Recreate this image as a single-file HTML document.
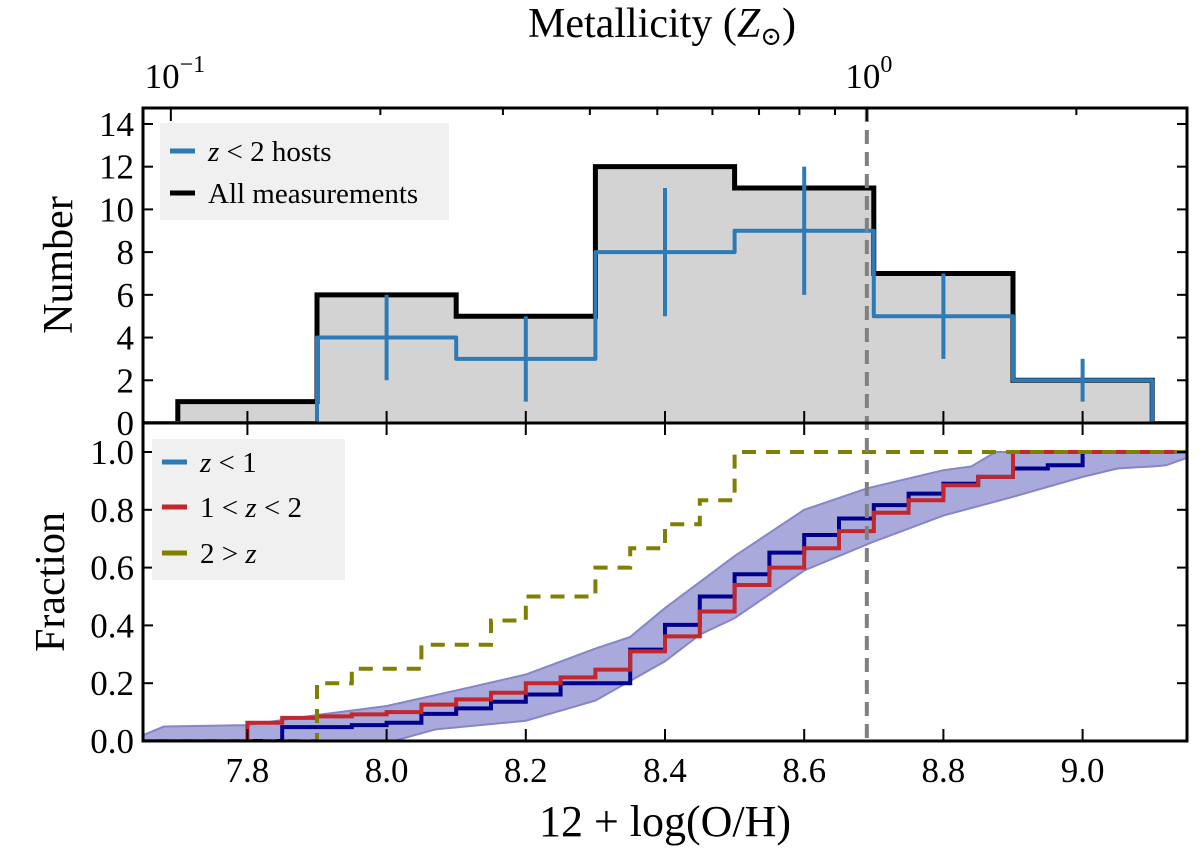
<!DOCTYPE html>
<html><head><meta charset="utf-8"><style>
html,body{margin:0;padding:0;background:#fff;}
svg{display:block;font-family:"Liberation Serif","DejaVu Serif",serif;}
</style></head><body>
<svg id="chart" width="1200" height="864" viewBox="0 0 1200 864" xmlns="http://www.w3.org/2000/svg">
<g id="topg"></g>
<g id="botg"></g>
<g id="labg"></g>
</svg>
<script>
// ---------- data ----------
const binEdges = [7.7, 7.9, 8.1, 8.3, 8.5, 8.7, 8.9, 9.1];
const allCounts = [1, 6, 5, 12, 11, 7, 2];
const hostCounts = [0, 4, 3, 8, 9, 5, 2];
const errCenters = [8.0, 8.2, 8.4, 8.6, 8.8, 9.0];
const errVals = [4, 3, 8, 9, 5, 2];
const errLo = [2, 1, 5, 6, 3, 1];
const errHi = [6, 5, 11, 12, 7, 3];
const topTicks = [0, 2, 4, 6, 8, 10, 12, 14];
const fracTicks = [0.0, 0.2, 0.4, 0.6, 0.8, 1.0];
const xTicks = [7.8, 8.0, 8.2, 8.4, 8.6, 8.8, 9.0];
const solarOH = 8.69;
const zTicksMajor = [0.1, 1];
const zTicksMinor = [0.2, 0.3, 0.4, 0.5, 0.6, 0.7, 0.8, 0.9, 2];
const redX = [7.8, 7.85, 7.9, 7.95, 8.0, 8.05, 8.1, 8.15, 8.2, 8.25, 8.3, 8.35, 8.4, 8.45, 8.5, 8.55, 8.6, 8.65, 8.7, 8.75, 8.8, 8.85, 8.9];
const redY = [0.063, 0.08, 0.085, 0.092, 0.10, 0.126, 0.144, 0.167, 0.2, 0.22, 0.247, 0.31, 0.362, 0.448, 0.54, 0.60, 0.667, 0.726, 0.79, 0.833, 0.885, 0.914, 1.0];
const navyX = [7.85, 7.95, 8.0, 8.05, 8.1, 8.15, 8.2, 8.25, 8.35, 8.4, 8.45, 8.5, 8.55, 8.6, 8.65, 8.7, 8.75, 8.8, 8.85, 8.9, 8.95, 9.0];
const navyY = [0.048, 0.055, 0.063, 0.094, 0.113, 0.136, 0.161, 0.2, 0.316, 0.402, 0.5, 0.577, 0.652, 0.713, 0.77, 0.816, 0.856, 0.89, 0.914, 0.943, 0.954, 1.0];
const oliveX = [7.9, 7.95, 8.05, 8.15, 8.2, 8.3, 8.35, 8.4, 8.45, 8.5];
const oliveY = [0.2, 0.25, 0.333, 0.417, 0.5, 0.6, 0.667, 0.75, 0.833, 1.0];
const bandUpX = [7.65, 7.68, 7.8, 7.9, 8.0, 8.1, 8.2, 8.3, 8.35, 8.4, 8.45, 8.5, 8.6, 8.69, 8.8, 8.84, 8.875, 9.15];
const bandUpY = [0.02, 0.05, 0.055, 0.09, 0.121, 0.175, 0.23, 0.32, 0.36, 0.46, 0.55, 0.64, 0.80, 0.874, 0.937, 0.95, 1.0, 1.0];
const bandLoX = [7.65, 8.01, 8.07, 8.2, 8.3, 8.4, 8.45, 8.5, 8.6, 8.7, 8.8, 8.9, 9.0, 9.05, 9.1, 9.12, 9.15];
const bandLoY = [0.0, 0.0, 0.04, 0.07, 0.14, 0.276, 0.368, 0.425, 0.59, 0.69, 0.78, 0.845, 0.914, 0.943, 0.95, 0.954, 0.98];

// ---------- scales ----------
const L = 143, R = 1187, TT = 108, TB = 423, BB = 741;
const X0 = 7.65, X1 = 9.15;
const sx = v => L + (v - X0) / (X1 - X0) * (R - L);
const TMAX = (TB - TT) / 21.36;
const syT = v => TB - v / TMAX * (TB - TT);
const syB = v => BB - v * 289;
const NS = "http://www.w3.org/2000/svg";
function mk(tag, attrs, parent) {
  const el = document.createElementNS(NS, tag);
  for (const k in attrs) el.setAttribute(k, attrs[k]);
  parent.appendChild(el); return el;
}
const topG = document.getElementById('topg'), botG = document.getElementById('botg'), labG = document.getElementById('labg');

const defs = mk('defs', {}, document.getElementById('chart'));
const c1 = mk('clipPath', {id: 'cT'}, defs); mk('rect', {x: L, y: TT, width: R - L, height: TB - TT}, c1);
const c2 = mk('clipPath', {id: 'cB'}, defs); mk('rect', {x: L, y: TB, width: R - L, height: BB - TB}, c2);
const gT = mk('g', {'clip-path': 'url(#cT)'}, topG);
const gB = mk('g', {'clip-path': 'url(#cB)'}, botG);

function histPath(edges, counts, ext) {
  let d = '';
  if (ext) d += `M${sx(X0)},${syT(0)} L${sx(edges[0])},${syT(0)} `;
  else d += `M${sx(edges[0])},${syT(0)} `;
  for (let i = 0; i < counts.length; i++) {
    d += `L${sx(edges[i])},${syT(counts[i])} L${sx(edges[i + 1])},${syT(counts[i])} `;
  }
  d += `L${sx(edges[edges.length - 1])},${syT(0)}`;
  if (ext) d += ` L${sx(X1)},${syT(0)}`;
  return d;
}
let e;
e = mk('path', {d: histPath(binEdges, allCounts, false) + ' Z', fill: '#d3d3d3', stroke: 'none'}, gT);


e = mk('path', {d: histPath(binEdges, allCounts, false), fill: 'none', stroke: '#000', 'stroke-width': 5}, gT);


e = mk('path', {d: histPath(binEdges, hostCounts, true), fill: 'none', stroke: '#2c7bb6', 'stroke-width': 4, 'stroke-linejoin': 'round'}, gT);


for (let i = 0; i < errCenters.length; i++) {
  e = mk('line', {x1: sx(errCenters[i]), x2: sx(errCenters[i]), y1: syT(errLo[i]), y2: syT(errHi[i]), stroke: '#2c7bb6', 'stroke-width': 4}, gT);
  
  
}

function bandPts(xs, ys) { return xs.map((x, i) => `${sx(x)},${syB(ys[i])}`); }
const up = bandPts(bandUpX, bandUpY), lo = bandPts(bandLoX, bandLoY).reverse();
e = mk('polygon', {points: up.concat(lo).join(' '), fill: '#a9a9dc', stroke: '#8585c8', 'stroke-width': 2}, gB);


function stepPath(xs, ys) {
  let d = `M${sx(X0)},${syB(0)} `;
  let prev = 0;
  for (let i = 0; i < xs.length; i++) { d += `L${sx(xs[i])},${syB(prev)} L${sx(xs[i])},${syB(ys[i])} `; prev = ys[i]; }
  d += `L${sx(X1)},${syB(prev)}`;
  return d;
}
e = mk('path', {d: stepPath(navyX, navyY), fill: 'none', stroke: '#00008b', 'stroke-width': 4}, gB);


e = mk('path', {d: stepPath(redX, redY), fill: 'none', stroke: '#c1272d', 'stroke-width': 4}, gB);


e = mk('path', {d: stepPath(oliveX, oliveY), fill: 'none', stroke: '#808000', 'stroke-width': 4, 'stroke-dasharray': '14,10'}, gB);



e = mk('line', {x1: sx(solarOH), x2: sx(solarOH), y1: TT, y2: BB, stroke: '#808080', 'stroke-width': 4, 'stroke-dasharray': '14,8'}, labG);



function line(x1, y1, x2, y2, w, p, nm) {
  const l = mk('line', {x1, y1, x2, y2, stroke: '#000', 'stroke-width': w}, p);
  
  
  return l;
}
function text(x, y, s, size, anchor, nm, extra) {
  const t = mk('text', Object.assign({x, y, 'font-size': size, 'text-anchor': anchor, fill: '#000'}, extra || {}), labG);
  t.textContent = s;
  
  
  return t;
}
for (const [y1, y2, nm] of [[TT, TB, 'top-frame'], [TB, BB, 'bottom-frame']]) {
  const r = mk('rect', {x: L, y: y1, width: R - L, height: y2 - y1, fill: 'none', stroke: '#000', 'stroke-width': 3}, labG);
  
  
}
topTicks.forEach(v => {
  const y = syT(v);
  line(L, y, L + 10, y, 2, labG, 'y-tick');
  line(R, y, R - 10, y, 2, labG, 'y-tick');
  text(134, y + 12, String(v), 35, 'end', 'y-tick-label');
});
fracTicks.forEach(v => {
  const y = syB(v);
  line(L, y, L + 10, y, 2, labG, 'y-tick');
  line(R, y, R - 10, y, 2, labG, 'y-tick');
  text(134, y + 12, v.toFixed(1), 35, 'end', 'y-tick-label');
});
xTicks.forEach(v => {
  const x = sx(v);
  line(x, BB, x, BB - 12, 2, labG, 'x-tick');
  line(x, TB, x, TB - 12, 2, labG, 'x-tick');
  line(x, TB, x, TB + 12, 2, labG, 'x-tick');
  text(x, 782, v.toFixed(1), 35, 'middle', 'x-tick-label');
});
zTicksMajor.forEach(z => {
  const x = sx(solarOH + Math.log10(z));
  line(x, TT, x, TT + 13, 2, labG, 'top-major-tick');
});
zTicksMinor.forEach(z => {
  const x = sx(solarOH + Math.log10(z));
  line(x, TT, x, TT + 7, 2, labG, 'top-minor-tick');
});
let t = text(sx(solarOH - 1) + 4, 88, '10', 35, 'middle', 'top-tick-label-0.1');
mk('tspan', {dy: -16, 'font-size': 24}, t).textContent = '−1';
t = text(sx(solarOH) + 2, 88, '10', 35, 'middle', 'top-tick-label-1');
mk('tspan', {dy: -16, 'font-size': 24}, t).textContent = '0';
t = text(662, 37, 'Metallicity (', 42, 'middle', 'top-axis-title');
mk('tspan', {'font-style': 'italic'}, t).textContent = 'Z';
mk('tspan', {'font-size': 26, dy: 8}, t).textContent = '⊙';
mk('tspan', {dy: -8}, t).textContent = ')';
text(665, 836, '12 + log(O/H)', 44, 'middle', 'x-axis-title');
text(0, 0, 'Number', 42, 'middle', 'y-axis-title-top', {transform: 'translate(72,265) rotate(-90)'});
text(0, 0, 'Fraction', 42, 'middle', 'y-axis-title-bottom', {transform: 'translate(64,582) rotate(-90)'});

function legend(x, y, w, h, items, nm) {
  const g = mk('g', {}, labG);
  
  
  mk('rect', {x, y, width: w, height: h, fill: '#f0f0f0'}, g);
  items.forEach(it => {
    const yy = y + it.dy;
    mk('line', {x1: x + 10, x2: x + 35, y1: yy, y2: yy, stroke: it.c, 'stroke-width': 5}, g);
    const tt = mk('text', {x: x + 48, y: yy + 10, 'font-size': 29, fill: '#000'}, g);
    tt.innerHTML = it.t;
    
    
  });
}
legend(160, 123, 289, 97, [
  {c: '#2c7bb6', t: '<tspan font-style="italic">z</tspan> &lt; 2 hosts', dy: 28},
  {c: '#000', t: 'All measurements', dy: 70}], 'top-legend');
legend(152, 439, 193, 141, [
  {c: '#2c7bb6', t: '<tspan font-style="italic">z</tspan> &lt; 1', dy: 23},
  {c: '#c1272d', t: '1 &lt; <tspan font-style="italic">z</tspan> &lt; 2', dy: 68},
  {c: '#808000', t: '2 &gt; <tspan font-style="italic">z</tspan>', dy: 114}], 'bottom-legend');
</script>
</body></html>
